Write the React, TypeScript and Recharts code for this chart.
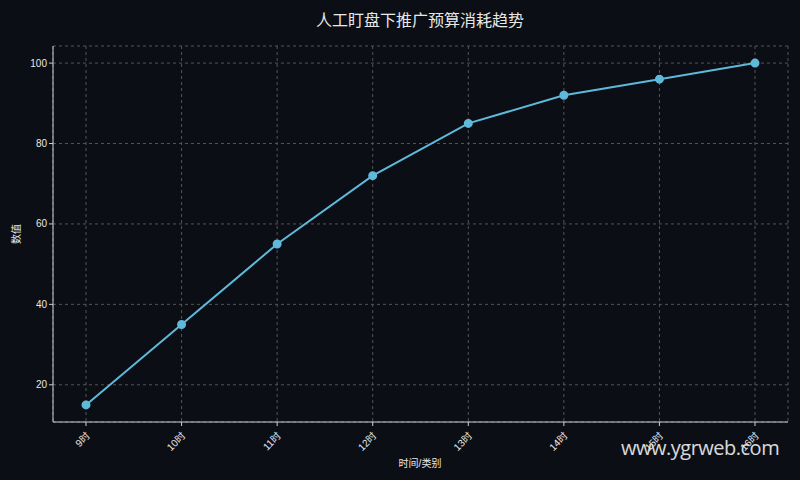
import React from 'react';
import { LineChart, Line, XAxis, YAxis, CartesianGrid } from 'recharts';

const hours = ['9时', '10时', '11时', '12时', '13时', '14时', '15时', '16时'];
const values = [15, 35, 55, 72, 85, 92, 96, 100];
const yTicks = [20, 40, 60, 80, 100];

const BG = '#0b0e14';
const TEXT = '#e8e8e8';
const FRAME = '#cfcfcf';
const LINE = '#5fb9da';
const FONT = '"Liberation Sans", Arial, "Noto Sans CJK SC", sans-serif';

const chartData = hours.map((h, i) => ({ name: h, value: values[i] }));

function XTick(props: any) {
    const { x, y, payload } = props;
    return (
        <text
            x={x + 2}
            y={y + 6}
            transform={`rotate(-45 ${x + 2} ${y + 6})`}
            textAnchor="end"
            dominantBaseline="central"
            fill={TEXT}
            fontSize={10}
            fontFamily={FONT}
        >
            {payload.value}
        </text>
    );
}

export default function App() {
    return (
        <div style={{ position: 'fixed', left: 0, top: 0, width: 800, height: 480, background: BG, fontFamily: FONT }}>
            <div style={{ position: 'absolute', left: 220, width: 400, top: 7, textAlign: 'center', color: TEXT, fontSize: 16 }}>
                人工盯盘下推广预算消耗趋势
            </div>
            <div style={{ position: 'absolute', left: 220, width: 400, top: 455, textAlign: 'center', color: TEXT, fontSize: 10 }}>
                时间/类别
            </div>
            <div
                style={{
                    position: 'absolute', left: 15, top: 234, color: TEXT, fontSize: 10,
                    transform: 'translate(-50%, -50%) rotate(-90deg)', whiteSpace: 'nowrap'
                }}
            >
                数值
            </div>
            <LineChart
                width={800}
                height={480}
                data={chartData}
                margin={{ top: 46, right: 12, left: 0, bottom: 0 }}
            >
                <CartesianGrid stroke="#555" strokeDasharray="3 3" />
                <XAxis
                    dataKey="name"
                    height={58}
                    padding={{ left: 33, right: 33 }}
                    interval={0}
                    stroke={FRAME}
                    tickSize={4}
                    tick={<XTick />}
                />
                <XAxis xAxisId="top" orientation="top" dataKey="name" height={0} tick={false} tickLine={false} stroke={FRAME} />
                <YAxis
                    domain={[10.75, 104.25]}
                    ticks={yTicks}
                    width={53}
                    stroke={FRAME}
                    tickSize={4}
                    tick={{ fill: TEXT, fontSize: 10, fontFamily: FONT }}
                />
                <YAxis yAxisId="right" orientation="right" width={0} tick={false} tickLine={false} stroke={FRAME} />
                <Line
                    type="linear"
                    dataKey="value"
                    stroke={LINE}
                    strokeWidth={2}
                    dot={{ fill: LINE, stroke: LINE, r: 3.5 }}
                    isAnimationActive={false}
                />
            </LineChart>
            <div
                style={{
                    position: 'absolute', left: 621, top: 434, color: '#f0f0f0', fontSize: 20,
                    fontFamily: '"Open Sans", sans-serif', opacity: 0.9, letterSpacing: -0.5
                }}
            >
                www.ygrweb.com
            </div>
        </div>
    );
}
